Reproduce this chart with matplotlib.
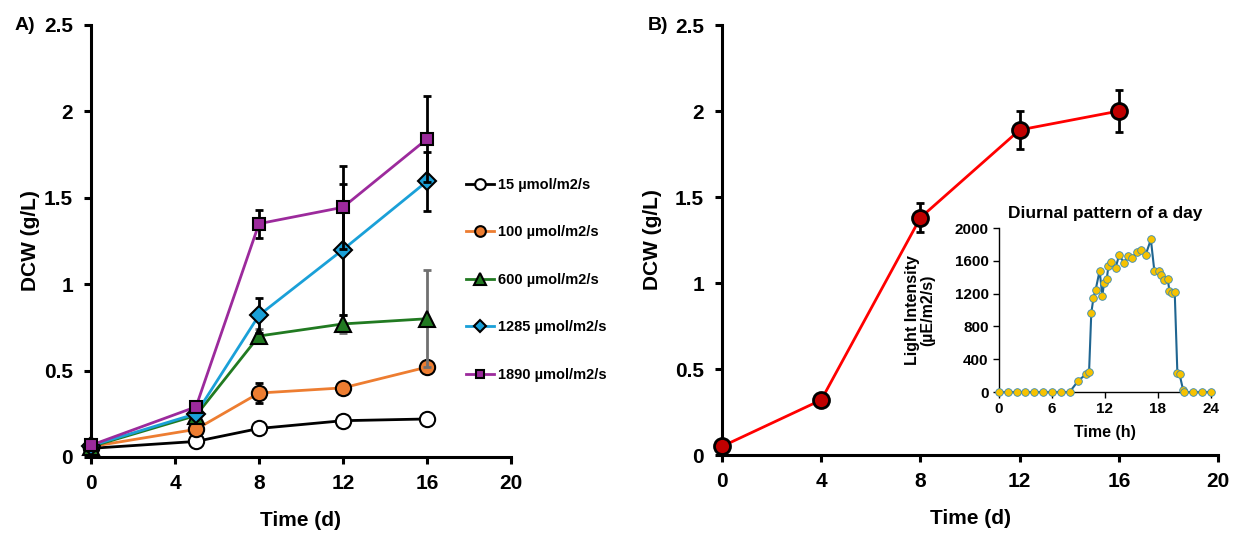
import matplotlib

matplotlib.use("Agg")
import matplotlib.pyplot as plt  # noqa: E402

plt.rcParams["font.family"] = ["Liberation Sans", "DejaVu Sans"]
plt.rcParams["font.weight"] = "bold"

# ---- panel A: DCW under constant light ----
days_a = [0, 5, 8, 12, 16]
labels_a = ["15 µmol/m2/s", "100 µmol/m2/s", "600 µmol/m2/s",
            "1285 µmol/m2/s", "1890 µmol/m2/s"]
dcw_15 = [0.05, 0.09, 0.165, 0.21, 0.22]
dcw_100 = [0.06, 0.16, 0.37, 0.40, 0.52]
dcw_600 = [0.06, 0.24, 0.70, 0.77, 0.80]
dcw_1285 = [0.065, 0.25, 0.82, 1.20, 1.595]
dcw_1890 = [0.068, 0.29, 1.35, 1.445, 1.84]
err_15 = [0.0, 0.01, 0.01, 0.02, 0.02]
err_100 = [0.0, 0.02, 0.06, 0.02, 0.02]
err_600 = [0.0, 0.02, 0.04, 0.05, 0.28]
err_1285 = [0.0, 0.02, 0.10, 0.38, 0.17]
err_1890 = [0.0, 0.02, 0.08, 0.24, 0.25]

# ---- panel B: DCW under diurnal light ----
days_b = [0, 4, 8, 12, 16]
dcw_b = [0.05, 0.32, 1.38, 1.89, 2.0]
err_b = [0.0, 0.0, 0.085, 0.11, 0.12]

# ---- inset: diurnal light pattern ----
hours = [0, 1, 2, 3, 4, 5, 6, 7, 8, 9.0, 9.9, 10.2, 10.45, 10.7, 10.95,
         11.4, 11.7, 11.9, 12.2, 12.4, 12.7, 13.2, 13.6, 14.2, 14.6, 15.1,
         15.6, 16.1, 16.6, 17.2, 17.6, 18.1, 18.4, 18.7, 19.1, 19.3, 19.6,
         19.9, 20.2, 20.45, 20.85, 21, 22, 23, 24]
light = [0, 0, 0, 0, 0, 0, 0, 0, 0, 140, 220, 240, 960, 1150, 1250,
         1480, 1170, 1330, 1375, 1540, 1585, 1515, 1665, 1575, 1660, 1635,
         1710, 1730, 1670, 1860, 1470, 1470, 1425, 1370, 1380, 1235, 1210,
         1215, 235, 215, 25, 0, 0, 0, 0]

series_a = [
    (dcw_15, err_15, "black", "white", "o", 11, "black"),
    (dcw_100, err_100, "#ed7d31", "#ed7d31", "o", 11, "black"),
    (dcw_600, err_600, "#217a21", "#217a21", "^", 12, "#707070"),
    (dcw_1285, err_1285, "#1aa0d8", "#1aa0d8", "D", 9, "black"),
    (dcw_1890, err_1890, "#9c2a9c", "#9c2a9c", "s", 9, "black"),
]


def style_main(ax):
    for side in ("top", "right"):
        ax.spines[side].set_visible(False)
    for side in ("left", "bottom"):
        ax.spines[side].set_linewidth(2.2)
    ax.set_xlim(0, 20)
    ax.set_ylim(0, 2.5)
    ax.set_xticks([0, 4, 8, 12, 16, 20])
    ax.set_yticks([0, 0.5, 1, 1.5, 2, 2.5])
    ax.set_yticklabels(["0", "0.5", "1", "1.5", "2", "2.5"])
    ax.tick_params(direction="out", length=5, width=2.2, labelsize=15)
    ax.tick_params(axis="y", pad=8)
    ax.tick_params(axis="x", pad=7)
    ax.set_xlabel("Time (d)", fontsize=15, fontweight="bold")
    ax.set_ylabel("DCW (g/L)", fontsize=15, fontweight="bold")
    ax.xaxis.set_label_coords(0.5, -0.125)
    ax.yaxis.set_label_coords(-0.122, 0.5)


fig = plt.figure(figsize=(12.33, 5.37), dpi=100)
ax_a = fig.add_axes([0.0738, 0.149, 0.3406, 0.8045])
ax_b = fig.add_axes([0.5856, 0.1527, 0.4023, 0.8007])
ax_in = fig.add_axes([0.8102, 0.270, 0.1719, 0.3054])

for z, (vals, errs, col, face, mk, ms, ecol) in enumerate(series_a):
    ax_a.errorbar(days_a, vals, yerr=errs, fmt="none", ecolor=ecol,
                  elinewidth=2, capsize=3, capthick=2, zorder=2 + z)
    ax_a.plot(days_a, vals, color=col, lw=2, marker=mk, ms=ms,
              mfc=face, mec="black", mew=1.5, label=labels_a[z],
              zorder=3 + z, clip_on=False)
style_main(ax_a)
leg = ax_a.legend(loc="center left", bbox_to_anchor=(0.862, 0.41),
                  frameon=False, fontsize=10.5, markerscale=0.7,
                  handlelength=1.9, handletextpad=0.3, labelspacing=2.3)
for t in leg.get_texts():
    t.set_fontweight("bold")

ax_b.errorbar(days_b, dcw_b, yerr=err_b, fmt="none", ecolor="black",
              elinewidth=2, capsize=3, capthick=2, zorder=2)
ax_b.plot(days_b, dcw_b, color="#ff0000", lw=2, marker="o", ms=11.5,
          mfc="#c00000", mec="black", mew=2, zorder=3, clip_on=False)
style_main(ax_b)

ax_in.plot(hours, light, color="#1f6591", lw=1.5, marker="o", ms=5.5,
           mfc="#f7c200", mec="#3a8ab0", mew=0.6, clip_on=False, zorder=3)
for side in ("top", "right"):
    ax_in.spines[side].set_visible(False)
for side in ("left", "bottom"):
    ax_in.spines[side].set_linewidth(1.0)
ax_in.set_xlim(0, 24)
ax_in.set_ylim(0, 2000)
ax_in.set_xticks([0, 6, 12, 18, 24])
ax_in.set_yticks([0, 400, 800, 1200, 1600, 2000])
ax_in.tick_params(direction="out", length=4, width=1.0, labelsize=11)
ax_in.set_xlabel("Time (h)", fontsize=11.5, fontweight="bold")
ax_in.set_ylabel("Light Intensity\n(µE/m2/s)", fontsize=11.5,
                 fontweight="bold", linespacing=1.0)
ax_in.xaxis.set_label_coords(0.5, -0.2)
ax_in.yaxis.set_label_coords(-0.3, 0.5)
ax_in.set_title("Diurnal pattern of a day", fontsize=12.5,
                fontweight="bold", pad=7)
ax_in.patch.set_alpha(0)

fig.text(0.012, 0.953, "A)", fontsize=14, fontweight="bold", va="center")
fig.text(0.525, 0.953, "B)", fontsize=14, fontweight="bold", va="center")

fig.savefig("out.png", dpi=100)
